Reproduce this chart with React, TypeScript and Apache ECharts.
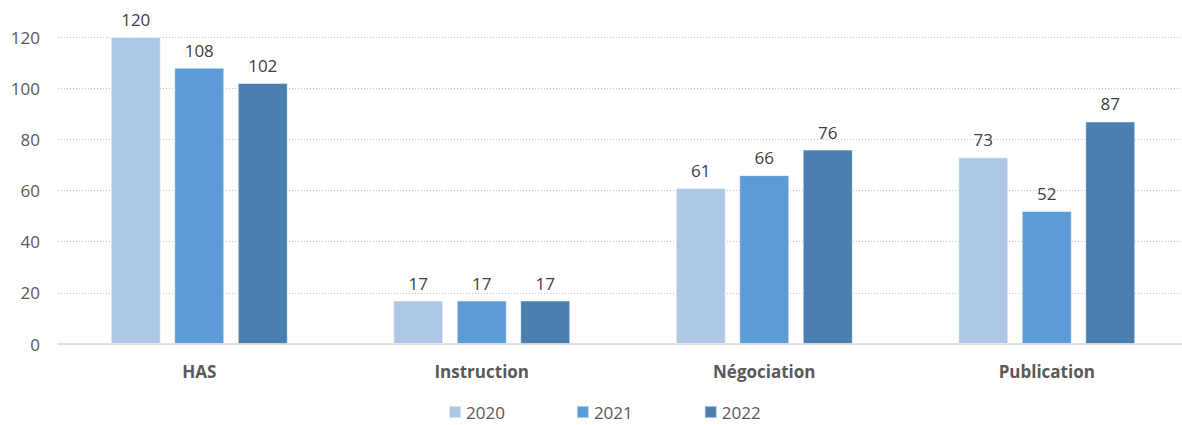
import React, { useEffect, useRef } from "react";
import * as echarts from "echarts";

const categories = ["HAS", "Instruction", "Négociation", "Publication"];
const years = ["2020", "2021", "2022"];
const values2020 = [120, 17, 61, 73];
const values2021 = [108, 17, 66, 52];
const values2022 = [102, 17, 76, 87];
const colors = ["#aec7e6", "#5b9bd6", "#4a7fb0"];

export default function App() {
  const ref = useRef<HTMLDivElement>(null);
  useEffect(() => {
    if (!ref.current) return;
    const chart = echarts.init(ref.current, null, { renderer: "svg" });
    const font = "'Open Sans', 'Noto Sans', sans-serif";
    const data = [values2020, values2021, values2022];
    chart.setOption({
      animation: false,
      textStyle: { fontFamily: font },
      grid: { left: 58, right: 2, top: 37, bottom: 81, containLabel: false },
      legend: {
        left: 448,
        top: 402,
        padding: 0,
        itemWidth: 12,
        itemHeight: 12,
        itemGap: 71,
        icon: "rect",
        textStyle: { fontSize: 17, lineHeight: 20, color: "#595959", fontFamily: font },
        data: years,
      },
      xAxis: {
        type: "category",
        data: categories,
        axisTick: { show: false },
        axisLine: { lineStyle: { color: "#d9d9d9", width: 1.5 } },
        axisLabel: { fontSize: 17, fontWeight: "bold", color: "#595959", margin: 19, fontFamily: font },
      },
      yAxis: {
        type: "value",
        min: 0,
        max: 120,
        interval: 20,
        axisLabel: { fontSize: 17, color: "#595959", margin: 18, fontFamily: font },
        splitLine: { lineStyle: { type: [1, 2], color: "#bfbfbf", width: 1 } },
        axisLine: { show: false },
        axisTick: { show: false },
      },
      series: years.map((y, i) => ({
        name: y,
        type: "bar",
        data: data[i],
        barWidth: 50,
        barGap: "27%",
        itemStyle: { color: colors[i], borderColor: "rgba(255,255,255,0.5)", borderWidth: 1 },
        label: {
          show: true,
          position: "top",
          distance: 9,
          fontSize: 17,
          color: "#404040",
          fontFamily: font,
        },
      })),
    });
    return () => chart.dispose();
  }, []);
  return (
    <div style={{ position: "absolute", left: 0, top: 0, width: 1182, height: 425, overflow: "hidden", background: "#fff" }}>
      <div ref={ref} style={{ width: 1190, height: 425 }} />
    </div>
  );
}
